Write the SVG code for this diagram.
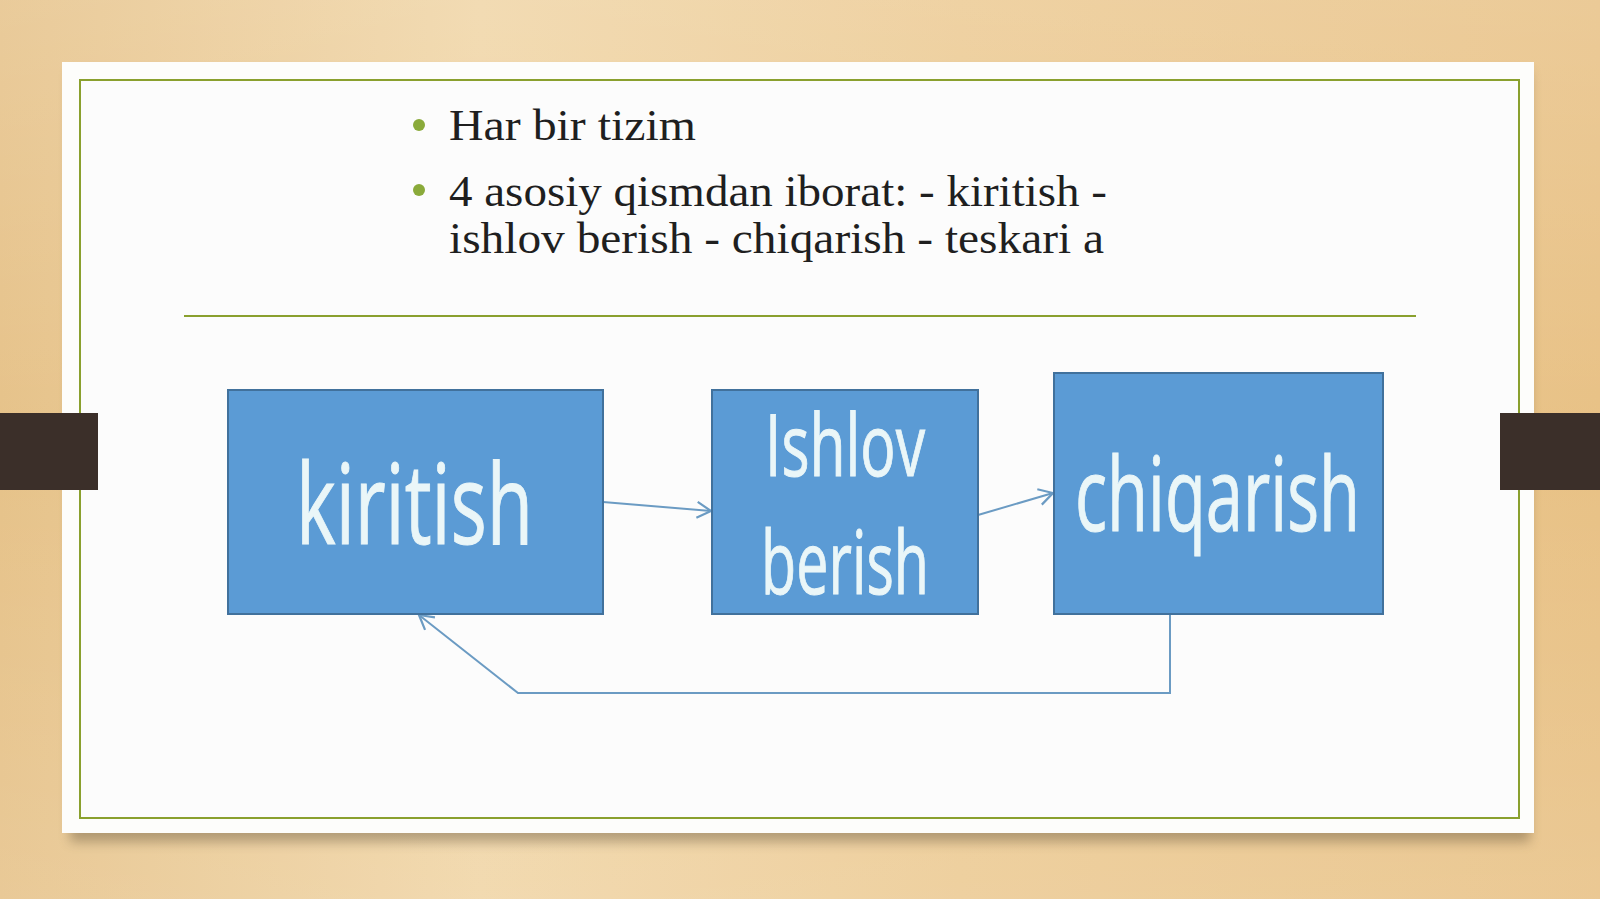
<svg xmlns="http://www.w3.org/2000/svg" width="1600" height="899" viewBox="0 0 1600 899">
<defs>
<linearGradient id="wood" x1="0" y1="0" x2="1" y2="0">
<stop offset="0" stop-color="#e6c289"/>
<stop offset="0.3" stop-color="#f0d5a6"/>
<stop offset="0.6" stop-color="#ecca93"/>
<stop offset="1" stop-color="#e8c185"/>
</linearGradient>
<linearGradient id="woodv" x1="0" y1="0" x2="0" y2="1">
<stop offset="0" stop-color="#ffffff" stop-opacity="0.15"/>
<stop offset="0.5" stop-color="#ffffff" stop-opacity="0"/>
<stop offset="1" stop-color="#ffffff" stop-opacity="0.12"/>
</linearGradient>
<filter id="sh" x="-5%" y="-5%" width="110%" height="115%">
<feGaussianBlur stdDeviation="6"/>
</filter>
<marker id="ah" viewBox="0 0 20 20" refX="18" refY="10" markerWidth="20" markerHeight="20" markerUnits="userSpaceOnUse" orient="auto">
<path d="M4,2 L18,10 L4,18" fill="none" stroke="#6b9bc3" stroke-width="2.2"/>
</marker>
<style>
.node{fill:#5b9bd5;stroke:#41719c;stroke-width:2}
.nt{font-family:"Open Sans","Liberation Sans",sans-serif;fill:#eaf6f8;stroke:#eaf6f8;stroke-width:1;text-anchor:start}
.bt{font-family:"Liberation Serif","DejaVu Serif",serif;font-size:44px;fill:#1f1f1f}
.conn{fill:none;stroke:#6b9bc3;stroke-width:2}
</style>
</defs>
<rect width="1600" height="899" fill="url(#wood)"/>
<rect width="1600" height="899" fill="url(#woodv)"/>
<rect x="70" y="72" width="1460" height="770" fill="#6b5a40" opacity="0.45" filter="url(#sh)"/>
<rect x="62" y="62" width="1472" height="771" fill="#fdfdfb"/>
<rect x="80" y="80" width="1439" height="738" fill="#fcfcfc" stroke="#8aa02e" stroke-width="2"/>
<rect x="0" y="413" width="98" height="77" fill="#3b2f29"/>
<rect x="1500" y="413" width="100" height="77" fill="#3b2f29"/>
<line x1="184" y1="316" x2="1416" y2="316" stroke="#8aa02e" stroke-width="2"/>
<g id="bullets">
<circle cx="419" cy="125" r="6" fill="#8aaa3a"/>
<circle cx="419" cy="190" r="6" fill="#8aaa3a"/>
<text class="bt" x="449" y="140" textLength="247" lengthAdjust="spacingAndGlyphs">Har bir tizim</text>
<text class="bt" x="449" y="206" textLength="658" lengthAdjust="spacingAndGlyphs">4 asosiy qismdan iborat: - kiritish -</text>
<text class="bt" x="449" y="253" textLength="655" lengthAdjust="spacingAndGlyphs">ishlov berish - chiqarish - teskari a</text>
</g>
<g id="connectors">
<line class="conn" x1="603" y1="502" x2="711" y2="511" marker-end="url(#ah)"/>
<line class="conn" x1="978" y1="515" x2="1053" y2="493" marker-end="url(#ah)"/>
<polyline class="conn" points="1170,614 1170,693 518,693 419,615" marker-end="url(#ah)"/>
</g>
<g id="node-kiritish">
<rect class="node" x="228" y="390" width="375" height="224"/>
<text class="nt" x="296" y="544" font-size="112" textLength="237" lengthAdjust="spacingAndGlyphs">kiritish</text>
</g>
<g id="node-ishlov">
<rect class="node" x="712" y="390" width="266" height="224"/>
<text class="nt" x="765" y="476" font-size="86" textLength="160" lengthAdjust="spacingAndGlyphs">Ishlov</text>
<text class="nt" x="761" y="594" font-size="88" textLength="168" lengthAdjust="spacingAndGlyphs">berish</text>
</g>
<g id="node-chiqarish">
<rect class="node" x="1054" y="373" width="329" height="241"/>
<text class="nt" x="1075" y="531" font-size="102" textLength="285" lengthAdjust="spacingAndGlyphs">chiqarish</text>
</g>
</svg>
